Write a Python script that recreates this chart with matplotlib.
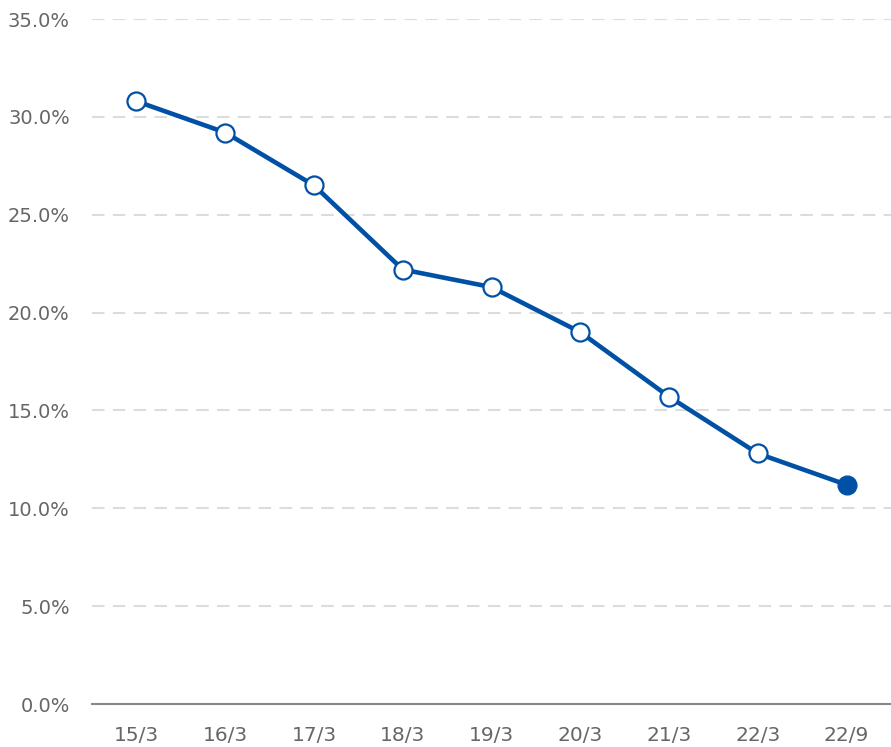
import matplotlib
matplotlib.use("Agg")
import matplotlib.pyplot as plt
from matplotlib.ticker import FuncFormatter

periods = ["15/3", "16/3", "17/3", "18/3", "19/3", "20/3", "21/3", "22/3", "22/9"]
values = [30.8, 29.2, 26.5, 22.2, 21.3, 19.0, 15.7, 12.8, 11.2]
y_ticks = [0, 5, 10, 15, 20, 25, 30, 35]

BLUE = "#0051a5"
TEXT = "#666666"

plt.rcParams["font.family"] = "DejaVu Sans"

fig = plt.figure(figsize=(8.91, 7.47), dpi=100)
ax = fig.add_axes([92 / 891, 43 / 747, 1 - 92 / 891, 685 / 747])

x = list(range(len(periods)))
ax.plot(x[:-1], values[:-1], color=BLUE, lw=3.3, marker="o", ms=13,
        mfc="white", mec=BLUE, mew=1.6, zorder=3)
ax.plot(x[-2:], values[-2:], color=BLUE, lw=3.3, zorder=2)
ax.plot(x[-1], values[-1], marker="o", ms=13.5, color=BLUE, zorder=4)

ax.set_xlim(-0.5, len(periods) - 0.5)
ax.set_ylim(0, 35)
ax.set_xticks(x)
ax.set_xticklabels(periods)
ax.set_yticks(y_ticks)
ax.yaxis.set_major_formatter(FuncFormatter(lambda v, _: f"{v:.1f}%"))

for t in y_ticks[1:]:
    ax.axhline(t, color="#dcdcdc", lw=1.5, dashes=(6, 4), zorder=1)

for s in ["top", "right", "left"]:
    ax.spines[s].set_visible(False)
ax.spines["bottom"].set_color("#888888")
ax.spines["bottom"].set_linewidth(1.5)
ax.tick_params(axis="x", length=0, labelsize=14.5, labelcolor=TEXT, pad=16)
ax.tick_params(axis="y", length=0, labelsize=14, labelcolor=TEXT, pad=16)

fig.savefig("out.png", dpi=100)
